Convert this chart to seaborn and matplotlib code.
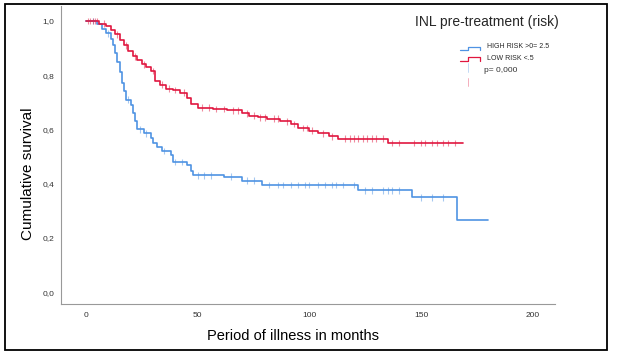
import numpy as np
import pandas as pd
import matplotlib
matplotlib.use("Agg")
import matplotlib.pyplot as plt
import seaborn as sns
from matplotlib.patches import Rectangle
from matplotlib.lines import Line2D

# ---- data ----
high_t = [0, 5, 7, 9, 11, 12, 13, 14, 15, 16, 17, 18, 20, 21, 22, 23, 26, 29, 30, 32, 34, 38, 39, 45, 47, 48, 62, 70, 79, 122, 146, 166, 180]
high_s = [1.0, 0.99, 0.97, 0.955, 0.935, 0.91, 0.88, 0.85, 0.81, 0.77, 0.74, 0.71, 0.69, 0.66, 0.63, 0.60, 0.585, 0.57, 0.55, 0.535, 0.52, 0.505, 0.48, 0.47, 0.445, 0.43, 0.425, 0.41, 0.395, 0.376, 0.35, 0.265, 0.265]
low_t = [0, 6, 9, 11, 13, 15, 17, 19, 21, 23, 25, 27, 29, 31, 33, 36, 39, 42, 45, 47, 50, 57, 63, 70, 73, 77, 81, 87, 92, 95, 100, 104, 109, 113, 135, 169]
low_s = [1.0, 0.99, 0.98, 0.965, 0.95, 0.93, 0.91, 0.89, 0.87, 0.855, 0.84, 0.83, 0.815, 0.78, 0.765, 0.75, 0.745, 0.735, 0.715, 0.695, 0.68, 0.675, 0.67, 0.66, 0.65, 0.645, 0.64, 0.63, 0.62, 0.605, 0.595, 0.585, 0.575, 0.565, 0.55, 0.55]
high_cens = [3, 10, 19, 24, 27, 35, 40, 43, 50, 53, 56, 65, 72, 75, 82, 86, 88, 92, 95, 98, 100, 104, 107, 110, 112, 115, 120, 125, 128, 133, 135, 137, 140, 150, 155, 160]
low_cens = [1, 2, 3, 4, 5, 8, 14, 18, 22, 26, 30, 34, 37, 40, 44, 52, 55, 58, 62, 66, 68, 72, 75, 78, 80, 84, 86, 90, 93, 97, 99, 101, 106, 110, 116, 118, 120, 122, 124, 126, 128, 130, 133, 137, 140, 147, 150, 152, 155, 157, 160, 162, 165]
groups = ["HIGH RISK >0= 2.5", "LOW RISK <.5"]
xticks = [0, 50, 100, 150, 200]
yticks = [0.0, 0.2, 0.4, 0.6, 0.8, 1.0]
ytick_labels = ["0,0", "0,2", "0,4", "0,6", "0,8", "1,0"]

blue = "#4f93e3"
red = "#e0173f"

sns.set_theme(style="white")
plt.rcParams["font.family"] = ["Liberation Sans", "DejaVu Sans"]

curves = pd.DataFrame({
    "t": high_t + low_t,
    "s": high_s + low_s,
    "g": [groups[0]] * len(high_t) + [groups[1]] * len(low_t),
})

def step_val(t_arr, s_arr, x):
    idx = np.searchsorted(np.array(t_arr), x, side="right") - 1
    return np.array(s_arr)[idx]

cens = pd.DataFrame({
    "t": high_cens + low_cens,
    "s": list(step_val(high_t, high_s, high_cens)) + list(step_val(low_t, low_s, low_cens)),
    "g": [groups[0]] * len(high_cens) + [groups[1]] * len(low_cens),
})

fig = plt.figure(figsize=(6.22, 3.53), dpi=100)
ax = fig.add_axes([61 / 622, 1 - 304 / 353, 494 / 622, 298 / 353])

pal = {groups[0]: blue, groups[1]: red}
sns.lineplot(data=curves, x="t", y="s", hue="g", palette=pal, drawstyle="steps-post",
             linewidth=1.2, ax=ax, legend=False, estimator=None, sort=False)
sns.scatterplot(data=cens, x="t", y="s", hue="g", palette=pal, marker="|", s=24,
                linewidth=0.8, alpha=0.5, ax=ax, legend=False)

ax.set_xlim(-11.2, 210)
ax.set_ylim(-0.044, 1.055)
ax.set_xticks(xticks)
ax.set_xticklabels([str(v) for v in xticks], fontsize=6, color="#333333")
ax.set_yticks(yticks)
ax.set_yticklabels(ytick_labels, fontsize=6, color="#333333")
ax.tick_params(axis="y", length=0, pad=5)
ax.tick_params(axis="x", length=0, pad=6)
for side in ["top", "right"]:
    ax.spines[side].set_visible(False)
for side in ["left", "bottom"]:
    ax.spines[side].set_color("#999999")
    ax.spines[side].set_linewidth(0.8)
ax.set_xlabel("Period of illness in months", fontsize=10.5, color="black")
ax.set_ylabel("Cumulative survival", fontsize=11, color="black")
ax.xaxis.set_label_coords(0.47, -0.085)
ax.yaxis.set_label_coords((35 - 61) / 494, (304 - 174) / 298)

# legend drawn manually to mimic SPSS style
fig.text(415 / 622, 1 - 22 / 353, "INL pre-treatment (risk)", fontsize=10, va="center", ha="left")
fig.text(487 / 622, 1 - 47 / 353, groups[0], fontsize=5, va="center", ha="left")
fig.text(487 / 622, 1 - 58 / 353, groups[1], fontsize=5, va="center", ha="left")
fig.text(484 / 622, 1 - 71 / 353, "p= 0,000", fontsize=6, va="center", ha="left", color="#333333")
W, H = 622, 353
def fl(xs, ys, **kw):
    fig.add_artist(Line2D([x / W for x in xs], [1 - y / H for y in ys], transform=fig.transFigure, **kw))
fl([460, 468, 468, 480, 480], [50, 50, 47, 47, 50], color=blue, lw=0.9)
fl([460, 468, 468, 480, 480], [61, 61, 57, 57, 61], color=red, lw=0.9)
fl([468, 468], [63, 72], color=blue, lw=0.6, alpha=0.4)
fl([468, 468], [78, 86], color=red, lw=0.6, alpha=0.4)

# outer border
fig.add_artist(Rectangle((5 / W, 1 - 350 / H), 602 / W, 346 / H, transform=fig.transFigure,
                         fill=False, edgecolor="black", linewidth=1.3))

fig.savefig("out.png", dpi=100)
